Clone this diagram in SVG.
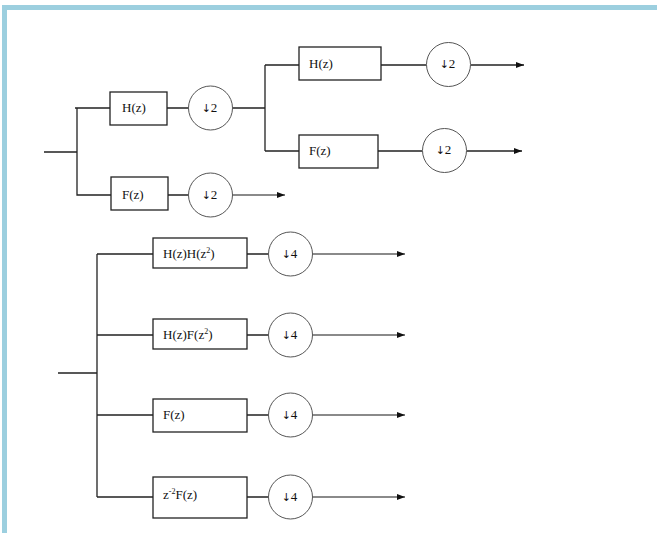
<svg xmlns="http://www.w3.org/2000/svg" width="657" height="533" viewBox="0 0 657 533">
<style>
.bd{fill:none;stroke:#9ccfdf;stroke-width:5}
.box{fill:#fff;stroke:#222;stroke-width:1.3}
.dn{fill:#fff;stroke:#555;stroke-width:1}
.w{fill:none;stroke:#222;stroke-width:1.3}
.g{fill:none;stroke:#8a8a8a;stroke-width:1.8}
.k{fill:none;stroke:#222;stroke-width:1.3}
text{font-family:"Liberation Serif","Times New Roman",serif;font-size:13px;fill:#111}
.c{text-anchor:middle}
.s{font-size:8px}
.a{font-family:"DejaVu Sans",sans-serif;font-size:11px}
</style>
<defs>
<marker id="ah" markerWidth="8" markerHeight="6" refX="8" refY="3" orient="auto" markerUnits="userSpaceOnUse">
<path d="M0,0 L8,3 L0,6 Z" fill="#111"/>
</marker>
</defs>
<path class="bd" d="M4.5,540 V7.5 H670"/>
<g id="connectors">
<path class="w" d="M44,152 H77 M75,108 H110 M77,108 V195 H111 M167,108 H188 M232.5,108 H265 M265,65 V151 M265,65 H299 M265,151 H299 M168,195 H188"/>
<path class="g" d="M232.5,195 H285" marker-end="url(#ah)"/>
<path class="w" d="M378,65 H426.5 M375,151 H422.5"/>
<path class="k" d="M470.5,65 H524" marker-end="url(#ah)"/>
<path class="k" d="M466.5,151 H522" marker-end="url(#ah)"/>
<path class="w" d="M58,373 H97 M97,254 V497 M97,254 H153 M97,335 H153 M97,415 H153 M97,497 H153 M247,254 H268 M247,335 H268 M247,415 H268 M247,497 H268"/>
<path class="g" d="M312.5,254 H405" marker-end="url(#ah)"/>
<path class="g" d="M312.5,335 H405" marker-end="url(#ah)"/>
<path class="g" d="M312.5,415 H405" marker-end="url(#ah)"/>
<path class="g" d="M312.5,497 H405" marker-end="url(#ah)"/>
</g>
<g id="h1"><rect class="box" x="110" y="92" width="57" height="33"/><text x="122" y="112">H(z)</text></g>
<g id="d1"><circle class="dn" cx="210.5" cy="108" r="22"/><text class="c" x="209.5" y="112"><tspan class="a">↓</tspan>2</text></g>
<g id="f1"><rect class="box" x="111" y="177" width="57" height="33"/><text x="122" y="199">F(z)</text></g>
<g id="d2"><circle class="dn" cx="210.5" cy="195" r="22"/><text class="c" x="209.5" y="199"><tspan class="a">↓</tspan>2</text></g>
<g id="h2"><rect class="box" x="299" y="47" width="82" height="33"/><text x="309" y="68">H(z)</text></g>
<g id="d3"><circle class="dn" cx="448.5" cy="64.5" r="22"/><text class="c" x="447.5" y="68"><tspan class="a">↓</tspan>2</text></g>
<g id="f2"><rect class="box" x="299" y="135" width="79" height="33"/><text x="309" y="155">F(z)</text></g>
<g id="d4"><circle class="dn" cx="444.5" cy="150.5" r="22"/><text class="c" x="443.5" y="154"><tspan class="a">↓</tspan>2</text></g>
<g id="b1"><rect class="box" x="153" y="238" width="94" height="30"/><text x="163" y="258">H(z)H(z<tspan class="s" dy="-5">2</tspan><tspan dy="5">)</tspan></text></g>
<g id="e1"><circle class="dn" cx="290.5" cy="254" r="22"/><text class="c" x="289.5" y="258"><tspan class="a">↓</tspan>4</text></g>
<g id="b2"><rect class="box" x="153" y="319" width="94" height="30"/><text x="163" y="339">H(z)F(z<tspan class="s" dy="-5">2</tspan><tspan dy="5">)</tspan></text></g>
<g id="e2"><circle class="dn" cx="290.5" cy="335" r="22"/><text class="c" x="289.5" y="339"><tspan class="a">↓</tspan>4</text></g>
<g id="b3"><rect class="box" x="153" y="399" width="94" height="33"/><text x="163" y="419">F(z)</text></g>
<g id="e3"><circle class="dn" cx="290.5" cy="415" r="22"/><text class="c" x="289.5" y="419"><tspan class="a">↓</tspan>4</text></g>
<g id="b4"><rect class="box" x="153" y="477" width="94" height="41"/><text x="163" y="499">z<tspan class="s" dy="-5">-2</tspan><tspan dy="5">F(z)</tspan></text></g>
<g id="e4"><circle class="dn" cx="290.5" cy="497" r="22"/><text class="c" x="289.5" y="501"><tspan class="a">↓</tspan>4</text></g>
</svg>
